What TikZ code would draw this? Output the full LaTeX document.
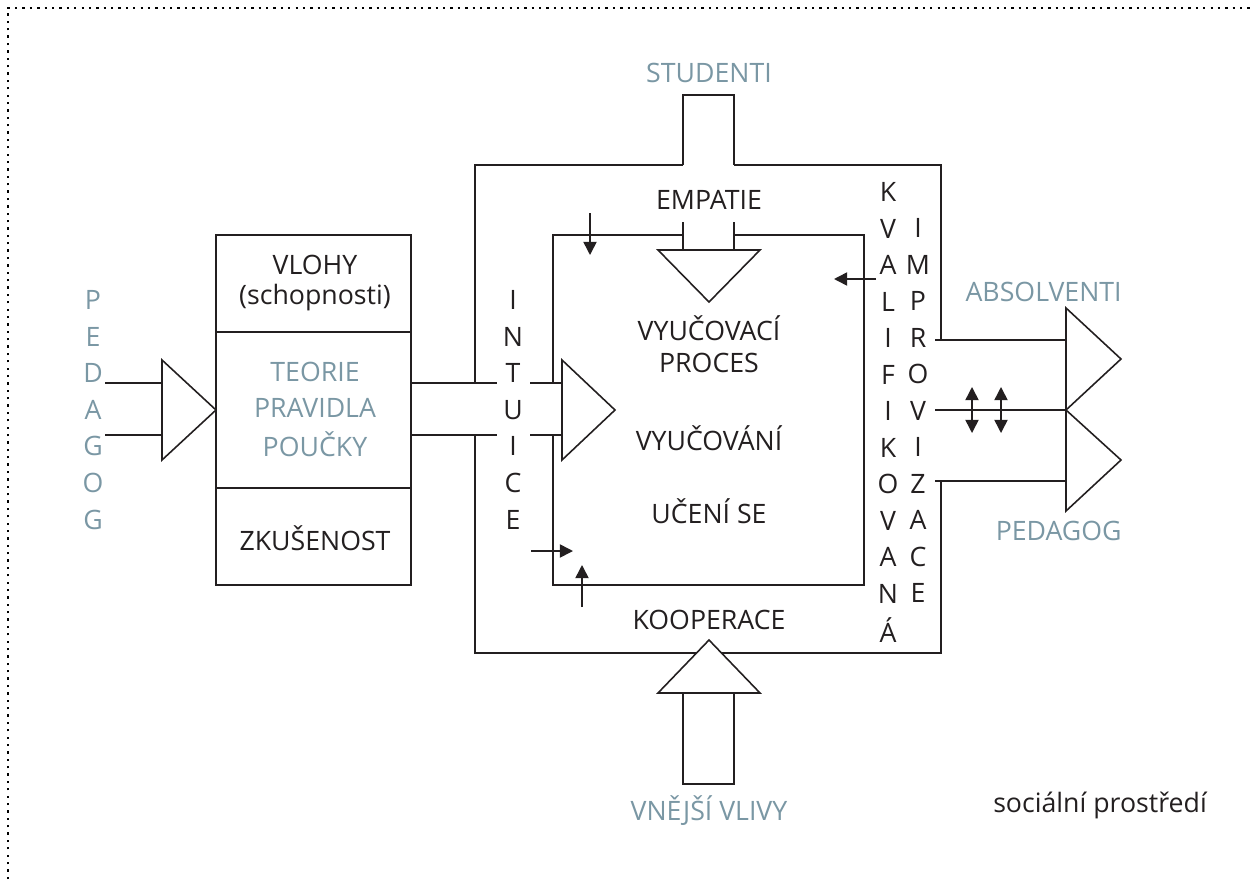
\documentclass[tikz,border=0pt]{standalone}
\usepackage{fontspec}
\setmainfont{Open Sans}
\usetikzlibrary{arrows.meta}
\definecolor{slate}{HTML}{7A97A4}
\definecolor{ink}{HTML}{231F20}

\begin{document}
\begin{tikzpicture}[x=0.02cm,y=-0.02cm]
		\tikzset{lbl/.style={font=\fontsize{15.2}{18}\selectfont, text=ink, inner sep=0pt}}
		\tikzset{soft lbl/.style={lbl, text=slate}}
		\tikzset{line/.style={draw=ink, line width=0.9pt}}
		\tikzset{wedge/.style={line, fill=white, line join=miter}}
		\tikzset{tip/.style={line, -{Triangle[length=7.5pt, width=7.5pt]}}}
		\tikzset{twotip/.style={line, {Triangle[length=7.5pt, width=7.5pt]}-{Triangle[length=7.5pt, width=7.5pt]}}}
		\useasboundingbox (0,0) rectangle (1250,879);
		%frame
		\draw[line width=0.7pt, dash pattern=on 1.3pt off 2.9pt] (8,879) -- (8,8) -- (1250,8);
		%left box
		\draw[line] (216,235) rectangle (411,585);
		\draw[line] (216,332) -- (411,332);
		\draw[line] (216,488) -- (411,488);
		\draw[line] (105,383) -- (162,383);
		\draw[line] (105,435) -- (162,435);
		\draw[wedge] (162,360) -- (216,410) -- (162,460) -- cycle;
		%channel
		\draw[line] (411,383) -- (497,383) (530,383) -- (562,383);
		\draw[line] (411,435) -- (497,435) (530,435) -- (562,435);
		%outer box
		\draw[line] (683,165) -- (475,165) -- (475,383);
		\draw[line] (475,435) -- (475,653) -- (941,653) -- (941,481);
		\draw[line] (941,340) -- (941,165) -- (734,165);
		\draw[line] (683,165) -- (683,95) -- (734,95) -- (734,165);
		%inner box
		\draw[line] (683,235) -- (553,235) -- (553,383);
		\draw[line] (553,435) -- (553,585) -- (864,585) -- (864,235) -- (734,235);
		\draw[line] (683,222) -- (683,250) (734,222) -- (734,250);
		\draw[wedge] (658,250) -- (760,250) -- (709,302) -- cycle;
		\draw[wedge] (562,360) -- (615,410) -- (562,460) -- cycle;
		%bottom arrow
		\draw[line] (683,693) -- (683,784) -- (734,784) -- (734,693);
		\draw[wedge] (658,693) -- (760,693) -- (709,640) -- cycle;
		%right side
		\draw[line] (935,340) -- (1066,340);
		\draw[line] (935,410) -- (1066,410);
		\draw[line] (935,481) -- (1066,481);
		\draw[wedge] (1066,308) -- (1121,359) -- (1066,410) -- cycle;
		\draw[wedge] (1066,410) -- (1121,460) -- (1066,511) -- cycle;
		%small arrows
		\coordinate (a1) at (590,213); \coordinate (b1) at (590,255);
		\coordinate (a2) at (876,279); \coordinate (b2) at (834,279);
		\coordinate (a3) at (531,551); \coordinate (b3) at (573,551);
		\coordinate (a4) at (582,607); \coordinate (b4) at (582,565);
		\coordinate (a5) at (972,387); \coordinate (b5) at (972,433);
		\coordinate (a6) at (1001,387); \coordinate (b6) at (1001,433);
		\foreach \k in {1,...,4}
			\draw[tip] (a\k) -- (b\k);
		\draw[twotip] (a5) -- (b5);
		\draw[twotip] (a6) -- (b6);
		%labels
		\node[lbl] (vlohy) at (315,265) {VLOHY};
		\node[lbl] (schop) at (315,298) {(schopnosti)};
		\node[soft lbl] (teorie) at (315,372) {TEORIE};
		\node[soft lbl] (pravidla) at (315,408) {PRAVIDLA};
		\node[soft lbl] (poucky) at (315,444) {POUČKY};
		\node[lbl] (zkus) at (315,538) {ZKUŠENOST};
		\node[soft lbl] (studenti) at (709,73) {STUDENTI};
		\node[lbl] (empatie) at (709,200) {EMPATIE};
		\node[lbl] (vyucproc) at (709,328) {VYUČOVACÍ};
		\node[lbl] (proces) at (709,363) {PROCES};
		\node[lbl] (vyucovani) at (709,438) {VYUČOVÁNÍ};
		\node[lbl] (uceni) at (709,511) {UČENÍ SE};
		\node[lbl] (koop) at (709,620) {KOOPERACE};
		\node[soft lbl] (vnejsi) at (709,811) {VNĚJŠÍ VLIVY};
		\node[soft lbl, anchor=east] (absol) at (1122,292) {ABSOLVENTI};
		\node[soft lbl, anchor=east] (pedr) at (1122,531) {PEDAGOG};
		\node[lbl] (social) at (1100,805) {sociální prostředí};
		%letter columns
		\foreach \l [count=\i] in {P,E,D,A,G,O,G}
			\node[soft lbl] (pedl\i) at (93,{300+36.6*(\i-1)}) {\l};
		\foreach \l [count=\i] in {I,N,T,U,I,C,E}
			\node[lbl] (int\i) at (513,{300+36.6*(\i-1)}) {\l};
		\foreach \l [count=\i] in {K,V,A,L,I,F,I,K,O,V,A,N,Á}
			\node[lbl] (kval\i) at (888,{192+36.5*(\i-1)}) {\l};
		\foreach \l [count=\i] in {I,M,P,R,O,V,I,Z,A,C,E}
			\node[lbl] (impr\i) at (918,{228+36.5*(\i-1)}) {\l};
\end{tikzpicture}
\end{document}
